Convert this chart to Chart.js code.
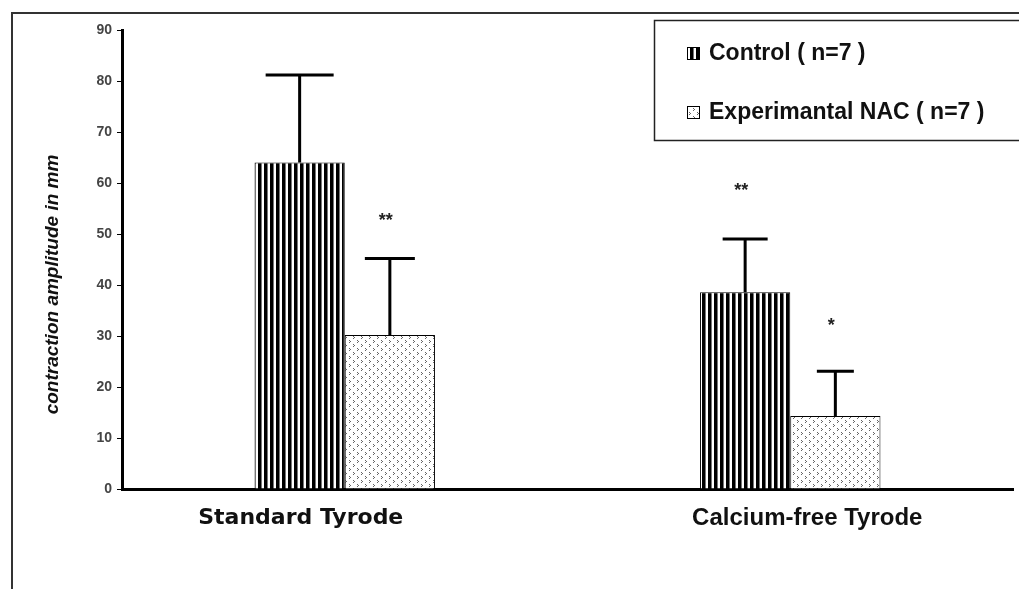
<!DOCTYPE html>
<html>
<head>
<meta charset="utf-8">
<script src="https://cdn.jsdelivr.net/npm/chart.js@4/dist/chart.umd.min.js"></script>
<style>
  body { margin: 0; background: #fff; }
  #wrap { width: 1019px; height: 589px; position: relative; }
</style>
</head>
<body>
<div id="wrap"><canvas id="myChart"></canvas></div>
<script>
// datos
const categories = ['Standard Tyrode', 'Calcium-free Tyrode'];
const controlMeans = [64, 38.6];
const controlSD = [17.2, 10.4];
const nacMeans = [30.2, 14.3];
const nacSD = [15, 8.8];
const controlMarks = ['', '**'];
const nacMarks = ['**', '*'];
const controlMarkY = [null, 58.5];
const nacMarkY = [52.5, 32];
const yTicks = [0, 10, 20, 30, 40, 50, 60, 70, 80, 90];

// patrones de relleno
function stripePattern() {
  const c = document.createElement('canvas');
  c.width = 6; c.height = 4;
  const g = c.getContext('2d');
  g.fillStyle = '#fff'; g.fillRect(0, 0, 6, 4);
  g.fillStyle = '#000'; g.fillRect(0, 0, 3, 4);
  g.fillStyle = '#777'; g.fillRect(3, 0, 1, 4);
  return g.createPattern(c, 'repeat');
}
function dotPattern() {
  const c = document.createElement('canvas');
  c.width = 8; c.height = 8;
  const g = c.getContext('2d');
  g.fillStyle = '#fff'; g.fillRect(0, 0, 8, 8);
  g.fillStyle = '#666';
  [[1,0],[2,1],[1,2],[5,4],[6,5],[5,6]].forEach(p => g.fillRect(p[0], p[1], 1, 1));
  return g.createPattern(c, 'repeat');
}
const controlFill = stripePattern();
const nacFill = dotPattern();

// marco exterior
const framePlugin = {
  id: 'frame',
  beforeDraw(chart) {
    const ctx = chart.ctx;
    ctx.save();
    ctx.strokeStyle = '#333';
    ctx.lineWidth = 2;
    ctx.beginPath();
    ctx.moveTo(12, chart.height);
    ctx.lineTo(12, 13);
    ctx.lineTo(chart.width, 13);
    ctx.stroke();
    ctx.restore();
  }
};

// barras de error y asteriscos
const errorPlugin = {
  id: 'errorBars',
  afterDatasetsDraw(chart, args, opts) {
    const ctx = chart.ctx;
    const y = chart.scales.y;
    ctx.save();
    chart.data.datasets.forEach((ds, i) => {
      const meta = chart.getDatasetMeta(i);
      meta.data.forEach((bar, j) => {
        const top = y.getPixelForValue(ds.data[j] + ds.sd[j]);
        const half = opts.caps[i][j] / 2;
        ctx.strokeStyle = '#000';
        ctx.lineWidth = 3;
        ctx.beginPath();
        ctx.moveTo(bar.x, bar.y);
        ctx.lineTo(bar.x, top);
        ctx.moveTo(bar.x - half, top);
        ctx.lineTo(bar.x + half, top);
        ctx.stroke();
        if (ds.marks[j]) {
          ctx.fillStyle = '#222';
          ctx.font = 'bold 18px "Liberation Sans"';
          ctx.textAlign = 'center';
          ctx.textBaseline = 'middle';
          ctx.fillText(ds.marks[j], bar.x - 4, y.getPixelForValue(ds.markY[j]));
        }
      });
    });
    ctx.restore();
  }
};

// etiquetas del eje x, título del eje y y leyenda
const labelsPlugin = {
  id: 'labels',
  afterDraw(chart, args, opts) {
    const ctx = chart.ctx;
    const x = chart.scales.x;
    const area = chart.chartArea;
    ctx.save();
    ctx.fillStyle = '#111';
    ctx.textAlign = 'center';
    ctx.textBaseline = 'middle';
    chart.data.labels.forEach((lab, i) => {
      ctx.font = opts.xFonts[i];
      ctx.fillText(lab, x.getPixelForTick(i) + opts.xShift[i], 518);
    });

    ctx.save();
    ctx.translate(53, (area.top + area.bottom) / 2 + 25);
    ctx.rotate(-Math.PI / 2);
    ctx.font = 'italic bold 19px "Liberation Sans"';
    ctx.fillText('contraction amplitude in mm', 0, 0);
    ctx.restore();

    // leyenda
    ctx.strokeStyle = '#222';
    ctx.lineWidth = 1.5;
    ctx.strokeRect(654.5, 20.5, 400, 120);
    ctx.textAlign = 'left';
    ctx.font = 'bold 23px "Liberation Sans"';
    chart.data.datasets.forEach((ds, i) => {
      const cy = 53 + i * 59;
      ctx.fillStyle = ds.backgroundColor;
      ctx.fillRect(687, cy - 6, 13, 13);
      ctx.strokeStyle = '#000';
      ctx.lineWidth = 1;
      ctx.strokeRect(687.5, cy - 5.5, 12, 12);
      ctx.fillStyle = '#111';
      ctx.fillText(ds.label, 709, cy + 1);
    });
    ctx.restore();
  }
};

const ctx = document.getElementById('myChart').getContext('2d');

new Chart(ctx, {
  type: 'bar',
  data: {
    labels: categories,
    datasets: [
      {
        label: 'Control ( n=7 )',
        data: controlMeans,
        sd: controlSD,
        marks: controlMarks,
        markY: controlMarkY,
        backgroundColor: controlFill,
        borderColor: '#000',
        borderWidth: 1
      },
      {
        label: 'Experimantal NAC ( n=7 )',
        data: nacMeans,
        sd: nacSD,
        marks: nacMarks,
        markY: nacMarkY,
        backgroundColor: nacFill,
        borderColor: '#000',
        borderWidth: 1
      }
    ]
  },
  options: {
    responsive: true,
    maintainAspectRatio: false,
    animation: false,
    layout: { padding: { left: 0, top: 30, right: 6, bottom: 0 } },
    datasets: { bar: { categoryPercentage: 0.405, barPercentage: 1 } },
    scales: {
      x: {
        grid: { display: false },
        border: { color: '#000', width: 3 },
        ticks: { display: false },
        afterFit(s) { s.height = 100; }
      },
      y: {
        min: 0,
        max: 90,
        afterBuildTicks(s) { s.ticks = yTicks.map(v => ({ value: v })); },
        grid: { drawOnChartArea: false, drawTicks: true, tickLength: 5, color: '#000' },
        border: { color: '#000', width: 3 },
        ticks: {
          padding: 5,
          color: '#444',
          font: { family: 'Liberation Sans', size: 14, weight: 'bold' }
        },
        afterFit(s) { s.width = 122; }
      }
    },
    plugins: {
      legend: { display: false },
      tooltip: { enabled: false },
      errorBars: { caps: [[68, 45], [50, 37]] },
      labels: {
        xFonts: ['bold 22px "DejaVu Sans"', 'bold 24px "Liberation Sans"'],
        xShift: [-44, 17]
      }
    }
  },
  plugins: [framePlugin, errorPlugin, labelsPlugin]
});
</script>
</body>
</html>
